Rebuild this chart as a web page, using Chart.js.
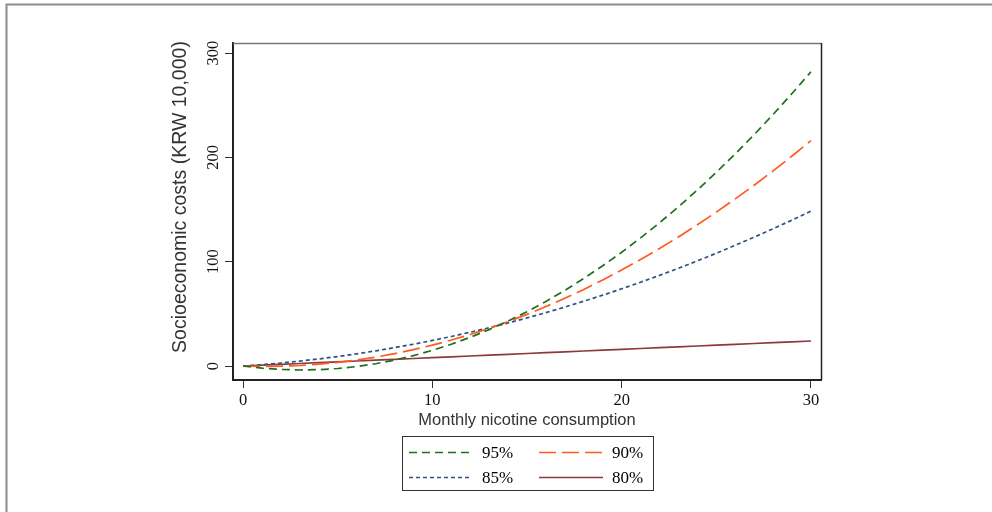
<!DOCTYPE html>
<html>
<head>
<meta charset="utf-8">
<script src="https://cdn.jsdelivr.net/npm/chart.js@4/dist/chart.umd.min.js"></script>
<style>
  html, body { margin: 0; padding: 0; background: #fff; }
  #wrap { width: 992px; height: 512px; position: relative; }
</style>
</head>
<body>
<div id="wrap"><canvas id="c" width="992" height="512"></canvas></div>
<script>
// ---- data ----
const consumption = [0,1,2,3,4,5,6,7,8,9,10,11,12,13,14,15,16,17,18,19,20,21,22,23,24,25,26,27,28,29,30];
const p95 = [0,-2.1,-3.3,-3.8,-3.5,-2.4,-0.5,2.2,5.7,10.0,15.0,20.9,27.5,34.9,43.1,52.1,61.9,72.5,83.9,96.1,109.0,122.8,137.3,152.6,168.7,185.6,203.3,221.8,241.1,261.2,282.0];
const p90 = [0,-0.3,-0.2,0.5,1.8,3.5,5.8,8.5,11.8,15.7,20.0,24.9,30.2,36.1,42.6,49.5,57.0,64.9,73.4,82.5,92.0,102.1,112.6,123.7,135.4,147.5,160.2,173.3,187.0,201.3,216.0];
const p85 = [0,1.3,2.9,4.7,6.8,9.1,11.7,14.5,17.6,20.9,24.5,28.3,32.4,36.7,41.3,46.1,51.2,56.5,62.1,67.9,74.0,80.3,86.9,93.7,100.8,108.1,115.7,123.5,131.6,139.9,148.5];
const p80 = [0,0.8,1.6,2.4,3.2,4.0,4.8,5.6,6.4,7.2,8.0,8.8,9.6,10.4,11.2,12.0,12.8,13.6,14.4,15.2,16.0,16.8,17.6,18.4,19.2,20.0,20.8,21.6,22.4,23.2,24.0];
const seriesLabels = ['95%', '90%', '85%', '80%'];
const xTicks = [0, 10, 20, 30];
const yTicks = [0, 100, 200, 300];
const xTitle = 'Monthly nicotine consumption';
const yTitle = 'Socioeconomic costs (KRW 10,000)';

const toPts = (ys) => consumption.map((x, i) => ({ x: x, y: ys[i] }));

const styles = [
  { color: '#1f6f1f', dash: [8, 5] },
  { color: '#ff5a1e', dash: [17, 6] },
  { color: '#2d5283', dash: [4, 3] },
  { color: '#8c3a3e', dash: [] }
];
const seriesValues = [p95, p90, p85, p80];

const datasets = seriesLabels.map((lab, i) => ({
  label: lab,
  data: toPts(seriesValues[i]),
  borderColor: styles[i].color,
  backgroundColor: styles[i].color,
  borderDash: styles[i].dash,
  borderWidth: 1.7,
  pointRadius: 0,
  tension: 0,
  fill: false
}));

const decor = {
  id: 'decor',
  beforeDraw(chart) {
    const ctx = chart.ctx;
    ctx.save();
    ctx.fillStyle = '#fff';
    ctx.fillRect(0, 0, chart.width, chart.height);
    // outer frame (top + left edges)
    ctx.strokeStyle = '#8c8c8c';
    ctx.lineWidth = 2;
    ctx.beginPath();
    ctx.moveTo(6.5, 512);
    ctx.lineTo(6.5, 4.5);
    ctx.lineTo(992, 4.5);
    ctx.stroke();
    ctx.restore();
  },
  afterDraw(chart) {
    const ctx = chart.ctx;
    const a = chart.chartArea;
    const ys = chart.scales.y;
    ctx.save();
    // plot frame top + right
    ctx.lineWidth = 1.5;
    ctx.strokeStyle = '#777';
    ctx.beginPath();
    ctx.moveTo(a.left, a.top + 0.5);
    ctx.lineTo(a.right, a.top + 0.5);
    ctx.stroke();
    ctx.strokeStyle = '#222';
    ctx.beginPath();
    ctx.moveTo(a.right + 0.5, a.top);
    ctx.lineTo(a.right + 0.5, a.bottom);
    ctx.stroke();

    // y tick labels (vertical)
    ctx.fillStyle = '#111';
    ctx.font = '16.5px "Liberation Serif", "Times New Roman", serif';
    ctx.textAlign = 'center';
    ctx.textBaseline = 'middle';
    yTicks.forEach(v => {
      const py = ys.getPixelForValue(v);
      ctx.save();
      ctx.translate(213.5, py);
      ctx.rotate(-Math.PI / 2);
      ctx.fillText(String(v), 0, 0);
      ctx.restore();
    });

    // y title
    ctx.save();
    ctx.fillStyle = '#333';
    ctx.font = '19.5px "Liberation Sans", Arial, sans-serif';
    ctx.textAlign = 'center';
    ctx.textBaseline = 'alphabetic';
    ctx.translate(186, 197);
    ctx.rotate(-Math.PI / 2);
    ctx.fillText(yTitle, 0, 0);
    ctx.restore();

    // legend box
    const bx = 402.5, by = 436.5, bw = 251, bh = 54;
    ctx.strokeStyle = '#333';
    ctx.lineWidth = 1;
    ctx.strokeRect(bx, by, bw, bh);
    const cols = [{ lx: 409, lw: 63, tx: 482 }, { lx: 539, lw: 64, tx: 612 }];
    const rows = [452.5, 477.5];
    ctx.font = '17px "Liberation Serif", "Times New Roman", serif';
    ctx.textAlign = 'left';
    ctx.textBaseline = 'middle';
    chart.data.datasets.forEach((ds, i) => {
      const c = cols[i % 2], r = rows[Math.floor(i / 2)];
      ctx.save();
      ctx.strokeStyle = ds.borderColor;
      ctx.lineWidth = 1.7;
      ctx.setLineDash(ds.borderDash);
      ctx.beginPath();
      ctx.moveTo(c.lx, r);
      ctx.lineTo(c.lx + c.lw, r);
      ctx.stroke();
      ctx.restore();
      ctx.fillStyle = '#000';
      ctx.fillText(ds.label, c.tx, r + 1);
    });
    ctx.restore();
  }
};

new Chart(document.getElementById('c'), {
  type: 'line',
  data: { datasets: datasets },
  options: {
    responsive: false,
    animation: false,
    devicePixelRatio: 1,
    layout: { padding: { left: 0, top: 43, right: 171, bottom: 0 } },
    plugins: { legend: { display: false }, tooltip: { enabled: false } },
    scales: {
      x: {
        type: 'linear',
        min: -0.53,
        max: 30.53,
        afterBuildTicks: (s) => { s.ticks = xTicks.map(v => ({ value: v })); },
        afterFit: (s) => { s.height = 132; },
        grid: { drawOnChartArea: false, drawTicks: true, tickLength: 8, color: '#333', lineWidth: 1 },
        border: { display: true, color: '#222', width: 2 },
        ticks: {
          color: '#111',
          padding: 3,
          maxRotation: 0,
          font: { family: '"Liberation Serif", "Times New Roman", serif', size: 16.5 }
        },
        title: {
          display: true,
          text: xTitle,
          color: '#333',
          font: { family: '"Liberation Sans", Arial, sans-serif', size: 16.5 },
          padding: { top: 0, bottom: 81.5 }
        }
      },
      y: {
        type: 'linear',
        min: -13.4,
        max: 309.6,
        afterBuildTicks: (s) => { s.ticks = yTicks.map(v => ({ value: v })); },
        afterFit: (s) => { s.width = 233; },
        grid: { drawOnChartArea: false, drawTicks: true, tickLength: 8, color: '#333', lineWidth: 1 },
        border: { display: true, color: '#222', width: 2 },
        ticks: { display: false }
      }
    }
  },
  plugins: [decor]
});
</script>
</body>
</html>
